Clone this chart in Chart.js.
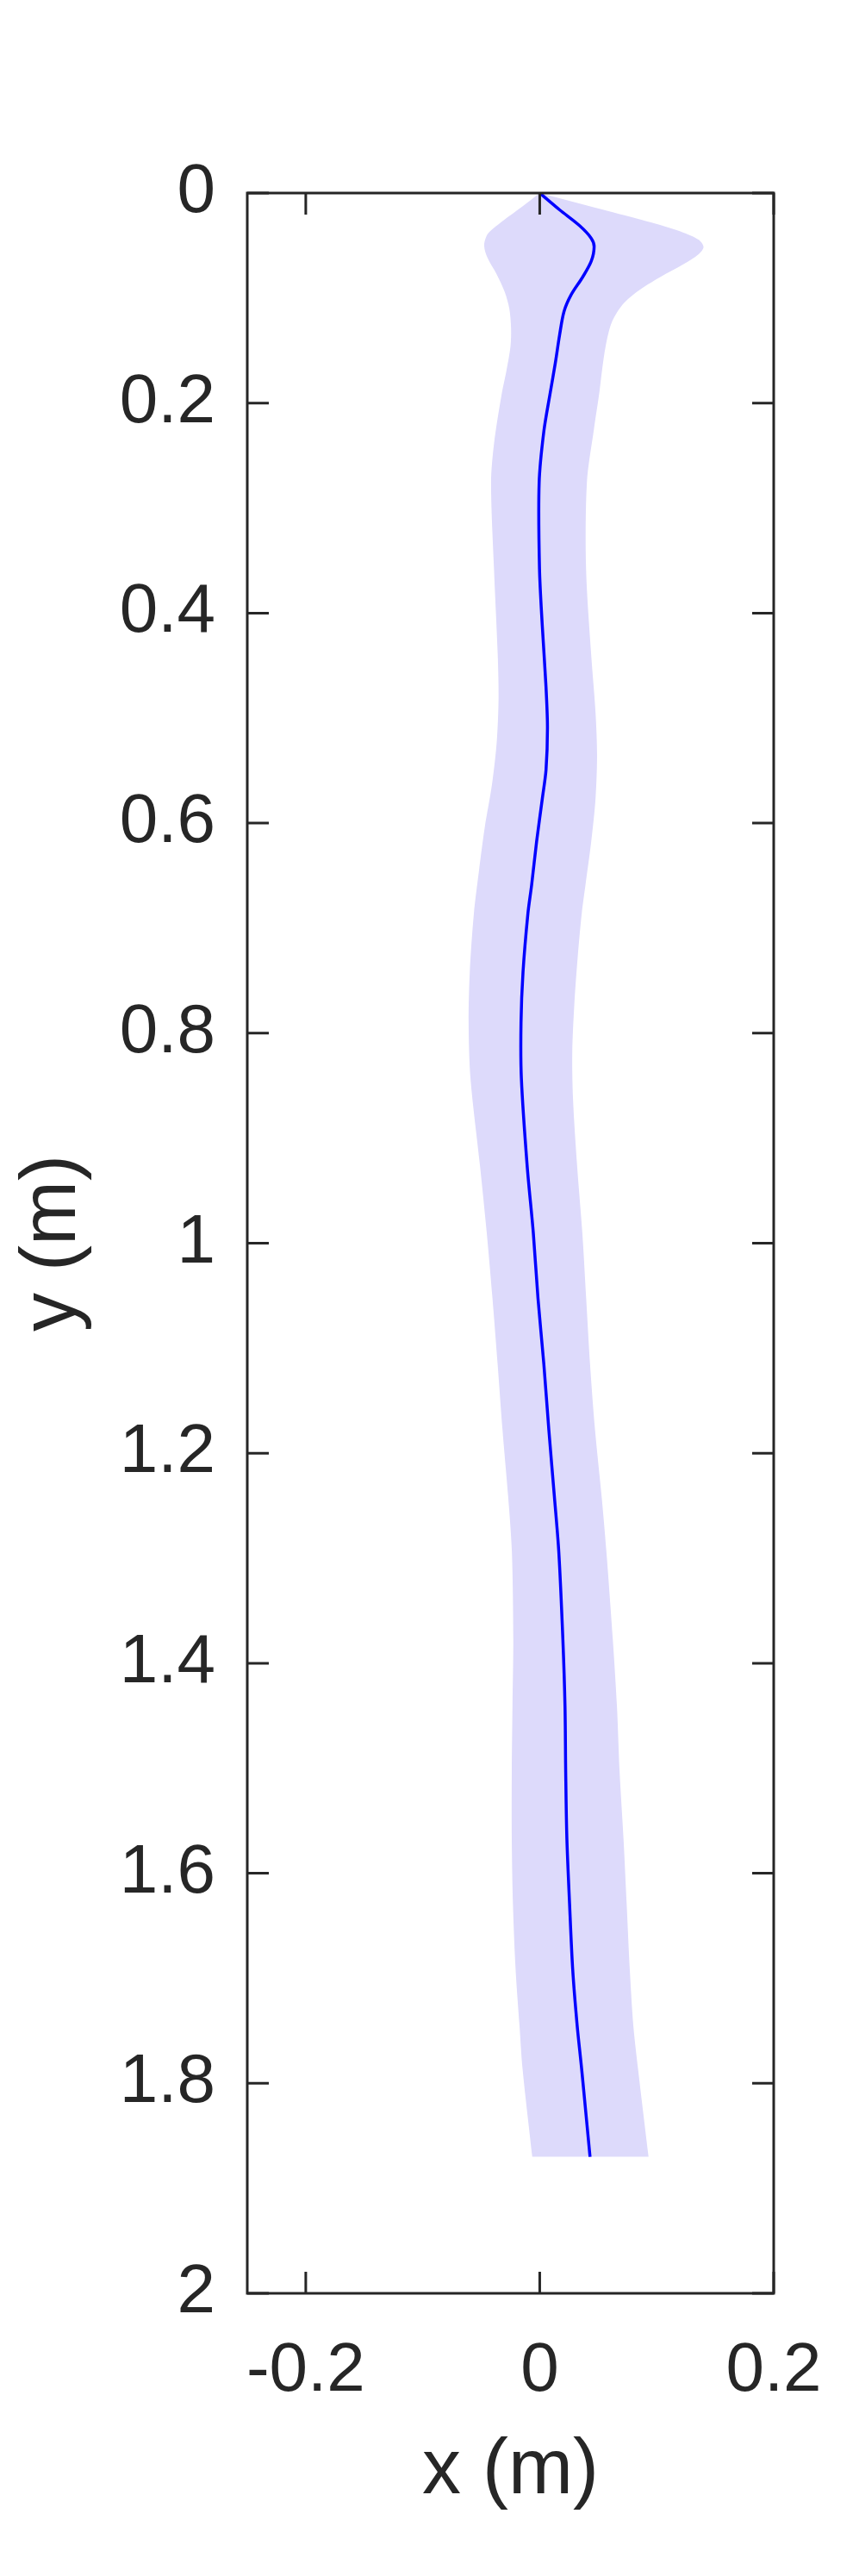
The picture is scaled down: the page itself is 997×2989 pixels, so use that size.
<!DOCTYPE html>
<html>
<head>
<meta charset="utf-8">
<script src="https://cdn.jsdelivr.net/npm/chart.js@4.4.1/dist/chart.umd.min.js"></script>
<style>
    html, body { margin: 0; padding: 0; background: #fff; }
    canvas { display: block; }
</style>
</head>
<body>
<canvas id="myChart" width="997" height="2989"></canvas>
<script>
// mean path (depth y, offset x), in metres
const lineY = [0, 0.016, 0.031, 0.043, 0.051, 0.065, 0.080, 0.097, 0.113, 0.135, 0.162, 0.19,
    0.227, 0.2757, 0.3578, 0.4125, 0.467, 0.508, 0.549, 0.5767, 0.6177, 0.6587, 0.686, 0.742,
    0.79, 0.843, 0.927, 0.99, 1.0525, 1.115, 1.178, 1.241, 1.294, 1.378, 1.441, 1.504, 1.567,
    1.629, 1.692, 1.745, 1.786, 1.835, 1.87];
const lineX = [0, 0.017, 0.034, 0.044, 0.0465, 0.044, 0.0367, 0.0268, 0.0207, 0.017, 0.0133, 0.009,
    0.0035, -0.0005, -0.0002, 0.0022, 0.0052, 0.0066, 0.0054, 0.0022, -0.0027, -0.0069, -0.0101, -0.0143,
    -0.016, -0.0157, -0.0107, -0.0055, -0.0015, 0.0035, 0.0078, 0.0125, 0.0163, 0.0198, 0.0216, 0.0222, 0.0232,
    0.0255, 0.0282, 0.032, 0.0358, 0.040, 0.043];

// left edge of the shaded band
const leftY = [0, 0.013, 0.0295, 0.039, 0.05, 0.062, 0.077, 0.094, 0.11, 0.129, 0.146, 0.17, 0.19,
    0.238, 0.2757, 0.3578, 0.4399, 0.481, 0.522, 0.563, 0.604, 0.645, 0.686, 0.742, 0.79, 0.843,
    0.927, 0.99, 1.0525, 1.115, 1.178, 1.241, 1.294, 1.378, 1.441, 1.504, 1.567, 1.629, 1.692,
    1.745, 1.786, 1.87];
const leftX = [0, -0.015, -0.035, -0.0445, -0.0475, -0.0445, -0.037, -0.030, -0.026, -0.0245, -0.025, -0.0286, -0.0323,
    -0.039, -0.0416, -0.0391, -0.0359, -0.0352, -0.0367, -0.0408, -0.047, -0.0519, -0.0563, -0.0598, -0.0608, -0.0592,
    -0.051, -0.0453, -0.0404, -0.036, -0.0318, -0.027, -0.0238, -0.0226, -0.0233, -0.0239, -0.0239, -0.0229, -0.0206,
    -0.0173, -0.0147, -0.0064];

// right edge of the shaded band
const rightY = [0, 0.0172, 0.0282, 0.0377, 0.0446, 0.0514, 0.058, 0.0678, 0.080, 0.0938, 0.1075, 0.124,
    0.146, 0.1676, 0.1895, 0.225, 0.2757, 0.3578, 0.4399, 0.4946, 0.5357, 0.5767, 0.6177, 0.6587, 0.686,
    0.727, 0.774, 0.82, 0.864, 0.927, 0.99, 1.0525, 1.115, 1.178, 1.241, 1.294, 1.378, 1.441, 1.504,
    1.567, 1.629, 1.692, 1.745, 1.786, 1.87];
const rightX = [0, 0.0588, 0.0957, 0.1229, 0.136, 0.14, 0.136, 0.1229, 0.103, 0.0834, 0.0699, 0.0613,
    0.0563, 0.0534, 0.051, 0.0463, 0.0403, 0.0396, 0.044, 0.0477, 0.049, 0.0477, 0.044, 0.0391, 0.0359,
    0.0325, 0.0295, 0.0278, 0.0285, 0.032, 0.0364, 0.0397, 0.043, 0.0473, 0.0529, 0.057, 0.0625, 0.066, 0.0683,
    0.0716, 0.0743, 0.077, 0.080, 0.084, 0.093];

const xTicks = [-0.2, 0, 0.2];
const xTickLabels = ['-0.2', '0', '0.2'];
const yTicks = [0, 0.2, 0.4, 0.6, 0.8, 1, 1.2, 1.4, 1.6, 1.8, 2];
const yTickLabels = ['0', '0.2', '0.4', '0.6', '0.8', '1', '1.2', '1.4', '1.6', '1.8', '2'];

const ink = '#262626';
const family = '"Liberation Sans", Arial, Helvetica, sans-serif';

const pts = (xs, ys) => xs.map((x, i) => ({x: x, y: ys[i]}));

// band outline: down the left edge, back up the right edge
// (bottom corners given twice so the curve keeps them sharp)
const left = pts(leftX, leftY);
const right = pts(rightX, rightY).reverse();
const band = [...left, left[left.length - 1], right[0], ...right];

// box round the axes with inward ticks on all four sides
const frame = {
    id: 'frame',
    afterDatasetsDraw(chart) {
        const {ctx, chartArea: a, scales} = chart;
        const tl = 25;
        ctx.save();
        ctx.strokeStyle = ink;
        ctx.lineWidth = 3;
        ctx.beginPath();
        xTicks.forEach(v => {
            const px = scales.x.getPixelForValue(v);
            ctx.moveTo(px, a.bottom); ctx.lineTo(px, a.bottom - tl);
            ctx.moveTo(px, a.top); ctx.lineTo(px, a.top + tl);
        });
        yTicks.forEach(v => {
            const py = scales.y.getPixelForValue(v);
            ctx.moveTo(a.left, py); ctx.lineTo(a.left + tl, py);
            ctx.moveTo(a.right, py); ctx.lineTo(a.right - tl, py);
        });
        ctx.stroke();
        ctx.strokeRect(a.left, a.top, a.right - a.left, a.bottom - a.top);
        ctx.restore();
    }
};

const config = {
    type: 'line',
    data: {
        datasets: [{
            label: 'mean',
            data: pts(lineX, lineY),
            borderColor: '#0000ff',
            borderWidth: 3.5,
            pointRadius: 0,
            tension: 0.3,
            fill: false
        }, {
            label: 'band',
            data: band,
            backgroundColor: 'rgb(221, 218, 251)',
            borderColor: 'rgba(0, 0, 0, 0)',
            borderWidth: 1,
            pointRadius: 0,
            tension: 0.3,
            fill: 'shape'
        }]
    },
    options: {
        responsive: false,
        animation: false,
        devicePixelRatio: 1,
        layout: { padding: { top: 224, right: 99, bottom: 0, left: 0 } },
        plugins: { legend: { display: false }, tooltip: { enabled: false } },
        scales: {
            x: {
                type: 'linear',
                min: -0.25,
                max: 0.2,
                afterBuildTicks: s => { s.ticks = xTicks.map(v => ({value: v})); },
                afterFit: s => { s.height = 328; },
                grid: { display: false, drawTicks: false },
                border: { display: false },
                ticks: {
                    autoSkip: false, maxRotation: 0, padding: 43, color: ink,
                    font: { family: family, size: 80 },
                    callback: v => xTickLabels[xTicks.indexOf(v)]
                },
                title: {
                    display: true, text: 'x (m)', color: ink,
                    font: { family: family, size: 90 },
                    padding: { top: 0, bottom: 67 }
                }
            },
            y: {
                type: 'linear',
                min: 0,
                max: 2,
                reverse: true,
                afterBuildTicks: s => { s.ticks = yTicks.map(v => ({value: v})); },
                afterFit: s => { s.width = 287; },
                grid: { display: false, drawTicks: false },
                border: { display: false },
                ticks: {
                    autoSkip: false, padding: 37, color: ink,
                    font: { family: family, size: 80 },
                    callback: v => yTickLabels[yTicks.indexOf(v)]
                },
                title: {
                    display: true, text: 'y (m)', color: ink,
                    font: { family: family, size: 90 },
                    padding: { top: 8, bottom: 0 }
                }
            }
        }
    },
    plugins: [frame]
};

const myChart = new Chart(document.getElementById('myChart'), config);
</script>
</body>
</html>
